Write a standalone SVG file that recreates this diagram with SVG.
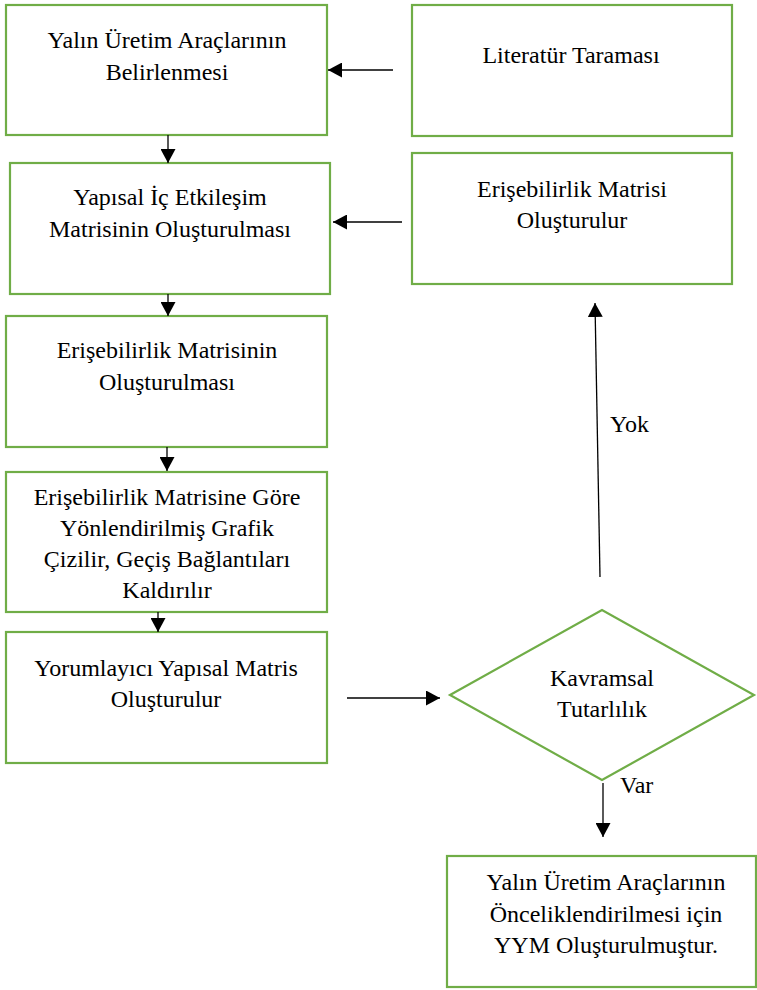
<svg xmlns="http://www.w3.org/2000/svg" width="757" height="990" viewBox="0 0 757 990">
<style>
.box{fill:#ffffff;stroke:#70AD47;stroke-width:2.2}
.t{font-family:'Times New Roman','Liberation Serif',Tinos,serif;font-size:24px;fill:#000;text-anchor:middle}
.l{font-family:'Times New Roman','Liberation Serif',Tinos,serif;font-size:24px;fill:#000}
.c{stroke:#000;stroke-width:1.3;fill:none;marker-end:url(#ah)}
</style>
<defs>
<marker id="ah" viewBox="0 0 14 15" refX="14" refY="7.5" markerWidth="14" markerHeight="15" markerUnits="userSpaceOnUse" orient="auto">
<path d="M0,0 L14,7.5 L0,15 z" fill="#000"/>
</marker>
</defs>
<rect width="757" height="990" fill="#fff"/>
<g id="n1"><rect class="box" x="6" y="5" width="321" height="130"/>
<text class="t" x="167" y="48">Yalın Üretim Araçlarının</text><text class="t" x="167" y="80">Belirlenmesi</text></g>
<g id="n2"><rect class="box" x="10" y="163" width="320" height="131"/>
<text class="t" x="170" y="205">Yapısal İç Etkileşim</text><text class="t" x="170" y="237">Matrisinin Oluşturulması</text></g>
<g id="n3"><rect class="box" x="6" y="316" width="321" height="131"/>
<text class="t" x="167" y="358">Erişebilirlik Matrisinin</text><text class="t" x="167" y="390">Oluşturulması</text></g>
<g id="n4"><rect class="box" x="6" y="472" width="321" height="140"/>
<text class="t" x="167" y="505">Erişebilirlik Matrisine Göre</text><text class="t" x="167" y="536">Yönlendirilmiş Grafik</text><text class="t" x="167" y="567">Çizilir, Geçiş Bağlantıları</text><text class="t" x="167" y="598">Kaldırılır</text></g>
<g id="n5"><rect class="box" x="6" y="632" width="321" height="131"/>
<text class="t" x="166" y="676">Yorumlayıcı Yapısal Matris</text><text class="t" x="166" y="707">Oluşturulur</text></g>
<g id="n6"><rect class="box" x="412" y="5" width="320" height="131"/>
<text class="t" x="571" y="63">Literatür Taraması</text></g>
<g id="n7"><rect class="box" x="412" y="153" width="320" height="131"/>
<text class="t" x="572" y="197">Erişebilirlik Matrisi</text><text class="t" x="572" y="228">Oluşturulur</text></g>
<g id="n8"><polygon class="box" points="450,695 602,610 754,695 602,780"/>
<text class="t" x="602" y="686">Kavramsal</text><text class="t" x="602" y="717">Tutarlılık</text></g>
<g id="n9"><rect class="box" x="447" y="856" width="309" height="131"/>
<text class="t" x="606" y="890">Yalın Üretim Araçlarının</text><text class="t" x="606" y="922">Önceliklendirilmesi için</text><text class="t" x="606" y="953">YYM Oluşturulmuştur.</text></g>
<g id="connectors">
<line class="c" x1="393" y1="70" x2="328" y2="70"/>
<line class="c" x1="402" y1="222" x2="333" y2="222"/>
<line class="c" x1="168" y1="135" x2="168" y2="163"/>
<line class="c" x1="168" y1="294" x2="168" y2="316"/>
<line class="c" x1="167" y1="447" x2="167" y2="471"/>
<line class="c" x1="158" y1="612" x2="158" y2="632"/>
<line class="c" x1="347" y1="698" x2="440" y2="698"/>
<line class="c" x1="600" y1="577" x2="595" y2="303"/>
<line class="c" x1="603" y1="783" x2="603" y2="837"/>
<text class="l" x="610" y="432">Yok</text>
<text class="l" x="620" y="793">Var</text>
</g>
</svg>
